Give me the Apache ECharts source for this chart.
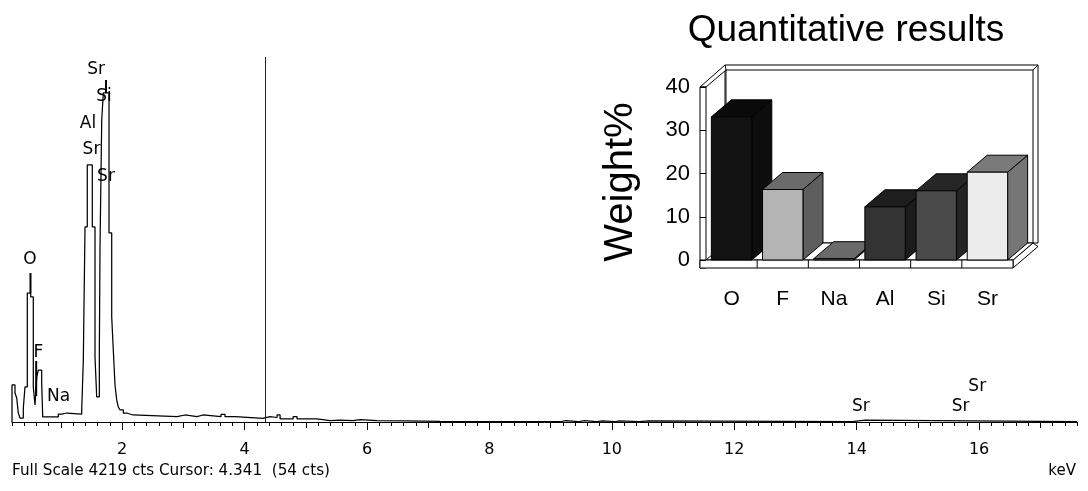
<!DOCTYPE html>
<html><head><meta charset="utf-8">
<script src="https://cdn.jsdelivr.net/npm/echarts@6/dist/echarts.min.js"></script>
<style>html,body{margin:0;padding:0;background:#fff}#c{width:1088px;height:491px}</style>
</head><body><div id="c"></div>
<script>
// ---------- EDS spectrum (keV / counts), step levels ----------
const spectrumEnergy = [0.200,0.200,0.249,0.277,0.303,0.331,0.385,0.412,0.450,0.506,0.548,0.576,0.604,0.630,0.685,0.702,
  0.957,1.012,1.094,1.339,1.365,1.393,1.430,1.512,1.556,1.584,1.627,1.638,1.666,1.692,1.785,1.829,1.855,1.883,1.911,1.937,
  1.965,2.019,2.074,2.177,2.896,3.027,3.222,3.321,3.615,3.680,3.843,4.302,4.416,4.531,4.580,4.793,4.857,5.184,5.396,5.560,
  5.772,5.886,6.164,6.652,7.193,9.150,9.250,9.450,9.550,9.750,9.850,10.050,10.120,10.450,10.600,13.930,14.140,17.600];
const spectrumCounts = [0,428,335,277,104,46,162,405,1491,1445,405,196,520,601,451,58,
  92,104,92,139,717,2254,2971,2254,751,289,832,2023,3491,3803,2185,1214,832,428,254,173,
  139,104,81,61,81,61,81,61,89,61,43,61,52,81,35,61,35,17,23,17,
  28,17,12,6,3,17,3,17,3,14,3,12,3,14,3,23,3,3];
const fullScaleCounts = 4219;
const cursorEnergy = 4.341;
const cursorCounts = 54;
const energyMin = 0.2, energyMax = 17.6;
const energyLabelTicks = [2,4,6,8,10,12,14,16];
const energyMidTicks = [1,3,5,7,9,11,13,15,17];

// peak identification labels
const peakLabelText   = ['O','F','Na','Al','Sr','Sr','Si','Sr','Sr','Sr','Sr'];
const peakLabelEnergy = [0.494,0.633,0.960,1.442,1.499,1.573,1.703,1.736,14.07,15.70,15.97];
const peakLabelCounts = [1780,705,197,3352,3052,3977,3665,2740,81,81,312];
// element marker lines
const markerEnergy = [0.502,0.595,1.736];
const markerTop    = [1722,705,3953];
const markerBottom = [1491,300,3803];

// ---------- Quantitative results ----------
const quantElements = ['O','F','Na','Al','Si','Sr'];
const quantWeight   = [33.1,16.3,0.3,12.3,16.0,20.3];
const weightMax = 40, weightStep = 10;

// styles
const barFront = ['#121212','#b4b4b4','#6a6a6a','#333333','#4a4a4a','#ececec'];
const barTop   = ['#0a0a0a','#6b6b6b','#6a6a6a','#1e1e1e','#262626','#7a7a7a'];
const barSide  = ['#0d0d0d','#5e5e5e','#5e5e5e','#1c1c1c','#242424','#767676'];
const DX = 20, DY = -17;
const specFont = '17px "DejaVu Sans"';

const chart = echarts.init(document.getElementById('c'), null, {renderer:'canvas'});

const spectrumData = spectrumEnergy.map((e,i)=>[e, spectrumCounts[i]]);

const option = {
  animation:false,
  backgroundColor:'#ffffff',
  grid:[
    {left:12, right:11, top:57, bottom:69},
    {left:706, width:307, top:87, height:173}
  ],
  xAxis:[
    {gridIndex:0, type:'value', position:'bottom', min:energyMin, max:energyMax, interval:0.2,
     axisLine:{lineStyle:{color:'#000',width:1}}, axisTick:{length:4,lineStyle:{color:'#000'}},
     axisLabel:{show:false}, splitLine:{show:false}},
    {gridIndex:0, type:'value', position:'bottom', offset:0, min:energyMin, max:energyMax,
     axisLine:{show:false}, axisTick:{length:6, customValues:energyMidTicks, lineStyle:{color:'#000'}},
     axisLabel:{show:false}, splitLine:{show:false}},
    {gridIndex:0, type:'value', position:'bottom', offset:0, min:energyMin, max:energyMax,
     axisLine:{show:false}, axisTick:{length:8, customValues:energyLabelTicks, lineStyle:{color:'#000'}},
     axisLabel:{customValues:energyLabelTicks, margin:20, color:'#000', fontFamily:'DejaVu Sans', fontSize:16},
     splitLine:{show:false}},
    {gridIndex:1, type:'category', data:quantElements, boundaryGap:true,
     axisLine:{show:false}, axisTick:{show:false},
     axisLabel:{margin:29, color:'#000', fontFamily:'Liberation Sans', fontSize:21}}
  ],
  yAxis:[
    {gridIndex:0, type:'value', min:0, max:fullScaleCounts, show:false},
    {gridIndex:1, type:'value', min:0, max:weightMax, interval:weightStep, z:5,
     axisLine:{show:false}, axisTick:{show:true, length:6, lineStyle:{color:'#000'}},
     splitLine:{show:false},
     axisLabel:{margin:16, color:'#000', fontFamily:'Liberation Sans', fontSize:22}}
  ],
  graphic:[
    {type:'text', x:846, y:31, style:{text:'Quantitative results', font:'37px "Liberation Sans"', fill:'#000', textAlign:'center', textVerticalAlign:'middle'}},
    {type:'text', x:621, y:182, rotation:Math.PI/2, style:{text:'Weight%', font:'40px "Liberation Sans"', fill:'#000', textAlign:'center', textVerticalAlign:'middle'}},
    {type:'text', x:12, y:471, style:{text:'Full Scale '+fullScaleCounts+' cts Cursor: '+cursorEnergy.toFixed(3)+'  ('+cursorCounts+' cts)', font:'15.2px "DejaVu Sans"', fill:'#000', textAlign:'left', textVerticalAlign:'middle'}},
    {type:'text', x:1076, y:471, style:{text:'keV', font:'15px "DejaVu Sans"', fill:'#000', textAlign:'right', textVerticalAlign:'middle'}}
  ],
  series:[
    {type:'line', xAxisIndex:0, yAxisIndex:0, data:spectrumData, step:'end', symbol:'none',
     lineStyle:{color:'#000', width:1.25}, z:3,
     markLine:{silent:true, symbol:['none','none'], label:{show:false},
       lineStyle:{color:'#222', width:1, type:'solid'}, data:[{xAxis:cursorEnergy}]}},
    {type:'custom', xAxisIndex:0, yAxisIndex:0, z:4,
     data:markerEnergy.map((e,i)=>[e, markerTop[i], markerBottom[i]]),
     renderItem:function(params, api){
       const a = api.coord([api.value(0), api.value(1)]);
       const b = api.coord([api.value(0), api.value(2)]);
       return {type:'line', shape:{x1:a[0],y1:a[1],x2:b[0],y2:b[1]}, style:{stroke:'#000', lineWidth:2}};
     }},
    {type:'custom', xAxisIndex:0, yAxisIndex:0, z:5,
     data:peakLabelEnergy.map((e,i)=>[e, peakLabelCounts[i], i]),
     renderItem:function(params, api){
       const p = api.coord([api.value(0), api.value(1)]);
       return {type:'text', x:p[0], y:p[1], style:{text:peakLabelText[api.value(2)], font:specFont, fill:'#000',
         textAlign:'center', textVerticalAlign:'bottom', align:'center', verticalAlign:'bottom'}};
     }},
    // 3D frame (walls + floor) of the inset
    {type:'custom', xAxisIndex:3, yAxisIndex:1, z:1, silent:true,
     data:[[0,0]],
     renderItem:function(params, api){
       const band = api.size([1,0])[0];
       const c0 = api.coord([0,0]), c5 = api.coord([quantElements.length-1,0]);
       const cT = api.coord([0,weightMax]);
       const L = c0[0]-band/2, R = c5[0]+band/2, B = c0[1], T = cT[1];
       const st = {fill:'#fff', stroke:'#000', lineWidth:1};
       const ln = {stroke:'#000', lineWidth:1};
       const ch = [];
       ch.push({type:'rect', shape:{x:L+DX-1, y:T+DY-5, width:(R-L)+6, height:(B-T)+5}, style:st});
       ch.push({type:'rect', shape:{x:L+DX, y:T+DY, width:R-L, height:B-T}, style:st});
       ch.push({type:'line', shape:{x1:R+DX,y1:T+DY,x2:R+DX+5,y2:T+DY-5}, style:ln});
       ch.push({type:'polygon', shape:{points:[[L-6,T],[L+DX-1,T+DY-5],[L+DX,T+DY],[L,T]]}, style:st});
       ch.push({type:'rect', shape:{x:L-6, y:T, width:6, height:(B-T)+8}, style:st});
       ch.push({type:'polygon', shape:{points:[[R,B],[R+DX,B+DY],[R+DX+5,B+DY+3.5],[R,B+8]]}, style:st});
       ch.push({type:'polygon', shape:{points:[[L,B],[R,B],[R+DX,B+DY],[L+DX,B+DY]]}, style:st});
       ch.push({type:'rect', shape:{x:L-6, y:B, width:(R-L)+6, height:8}, style:st});
       for (let k=1;k<quantElements.length;k++){
         const bx = L + band*k;
         ch.push({type:'line', shape:{x1:bx,y1:B,x2:bx,y2:B+8}, style:ln});
       }
       return {type:'group', children:ch};
     }},
    // 3D bars
    {type:'custom', xAxisIndex:3, yAxisIndex:1, z:3,
     data:quantWeight.map((v,i)=>[i,v]),
     renderItem:function(params, api){
       const i = api.value(0);
       const c0 = api.coord([i,0]), c1 = api.coord([i,api.value(1)]);
       const w = api.size([1,0])[0]*0.79;
       const x0 = c0[0]-w/2, x1 = c0[0]+w/2, yb = c0[1], yt = c1[1];
       return {type:'group', children:[
         {type:'polygon', shape:{points:[[x1,yt],[x1+DX,yt+DY],[x1+DX,yb+DY],[x1,yb]]}, style:{fill:barSide[i], stroke:'#000', lineWidth:1}},
         {type:'polygon', shape:{points:[[x0,yt],[x1,yt],[x1+DX,yt+DY],[x0+DX,yt+DY]]}, style:{fill:barTop[i], stroke:'#000', lineWidth:1}},
         {type:'rect', shape:{x:x0,y:yt,width:w,height:yb-yt}, style:{fill:barFront[i], stroke:'#000', lineWidth:1}}
       ]};
     }}
  ]
};
chart.setOption(option);
</script>
</body></html>
